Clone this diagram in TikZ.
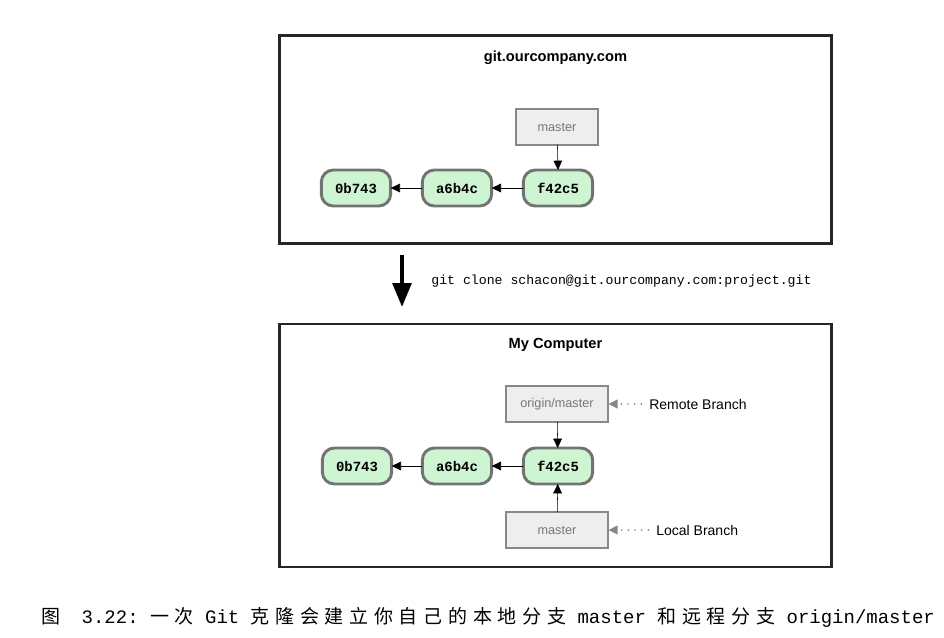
\documentclass[tikz,border=0pt]{standalone}
\usepackage{fontspec}
\setmainfont{Liberation Sans}
\setmonofont{Liberation Mono}
\newfontfamily\cjk[LetterSpace=30]{Noto Sans CJK SC}
\usetikzlibrary{
    arrows.meta,
    positioning
}
\definecolor{commitfill}{HTML}{CDF5D2}
\definecolor{commitline}{HTML}{737373}
\definecolor{branchfill}{HTML}{EEEEEE}
\definecolor{branchline}{HTML}{888888}
\definecolor{branchtext}{HTML}{777777}
\tikzset{
    every picture/.style = {
        > = {Triangle[length = 7pt, width = 6.5pt]},
        x = 0.75pt,
        y = -0.75pt
    },
    every node/.style = {
        inner sep = 1pt,
        outer sep = 0pt,
        align = center
    },
    frame/.style = {
        draw = black!85,
        line width = 1.9pt,
        minimum width = 414pt,
        minimum height = 156pt
    },
    commit/.style = {
        draw = commitline,
        fill = commitfill,
        line width = 2.2pt,
        rounded corners = 9pt,
        minimum width = 52pt,
        minimum height = 27pt,
        font = \fontsize{10.5}{12}\ttfamily\bfseries
    },
    branch/.style = {
        draw = branchline,
        fill = branchfill,
        line width = 1.5pt,
        minimum height = 26.5pt,
        text = branchtext,
        font = \fontsize{9.5}{11}\selectfont
    },
    title/.style = {
        font = \fontsize{11}{13}\selectfont\bfseries
    },
    note/.style = {
        font = \fontsize{10.5}{12}\selectfont
    },
    hint/.style = {
        draw = branchline,
        line width = 1.4pt,
        line cap = round,
        dash pattern = on 0pt off 5pt,
        shorten <= 5pt,
        -{Triangle[length = 7pt, width = 6.5pt, fill = branchline]}
    }
}

\begin{document}
\begin{tikzpicture}
    \useasboundingbox (0, 0) rectangle (944, 637);
    % server side
    \node[frame] (server) at (555.5, 139.5) {};
    \node[title] (servername) at (555.5, 58) {git.ourcompany.com};
    \node[commit] (s0) at (356, 188) {0b743};
    \node[commit] (s1) at (457, 188) {a6b4c};
    \node[commit] (s2) at (558, 188) {f42c5};
    \node[branch, minimum width = 61pt] (smaster) at (557, 127) {master};
    \path[->] (s1) edge (s0);
    \path[->] (s2) edge (s1);
    \path[->] (smaster) edge (s2 |- s2.north);
    % clone step
    \coordinate (clonetop) at (402, 255);
    \coordinate (clonebot) at (402, 307);
    \draw[line width = 3pt, -{Triangle[length = 18pt, width = 14pt]}] (clonetop) -- (clonebot);
    \node[anchor = west, font = \fontsize{9.9}{12}\ttfamily] (clonecmd) at (430, 281)
        {git clone schacon@git.ourcompany.com:project.git};
    % local side
    \node[frame, minimum height = 182pt] (local) at (555.5, 445.5) {};
    \node[title] (localname) at (555.5, 345) {My Computer};
    \node[commit] (l0) at (357, 466) {0b743};
    \node[commit] (l1) at (457, 466) {a6b4c};
    \node[commit] (l2) at (558, 466) {f42c5};
    \node[branch, minimum width = 77pt] (origin) at (557, 404) {origin/master};
    \node[branch, minimum width = 77pt] (lmaster) at (557, 530) {master};
    \path[->] (l1) edge (l0);
    \path[->] (l2) edge (l1);
    \path[->] (origin) edge (l2);
    \path[->] (lmaster) edge (l2);
    \node[note, anchor = west] (remote) at (648, 404) {Remote Branch};
    \node[note, anchor = west] (localbr) at (655, 530) {Local Branch};
    \draw[hint] (remote) -- (origin);
    \draw[hint] (localbr) -- (lmaster);
    % caption
    \node[anchor = west, font = \fontsize{14.25}{16}\ttfamily] (caption) at (40, 617)
        {{\cjk 图}\hspace{16pt}3.22: {\cjk 一次} Git {\cjk 克隆会建立你自己的本地分支} master {\cjk 和远程分支} origin/master};
\end{tikzpicture}
\end{document}
